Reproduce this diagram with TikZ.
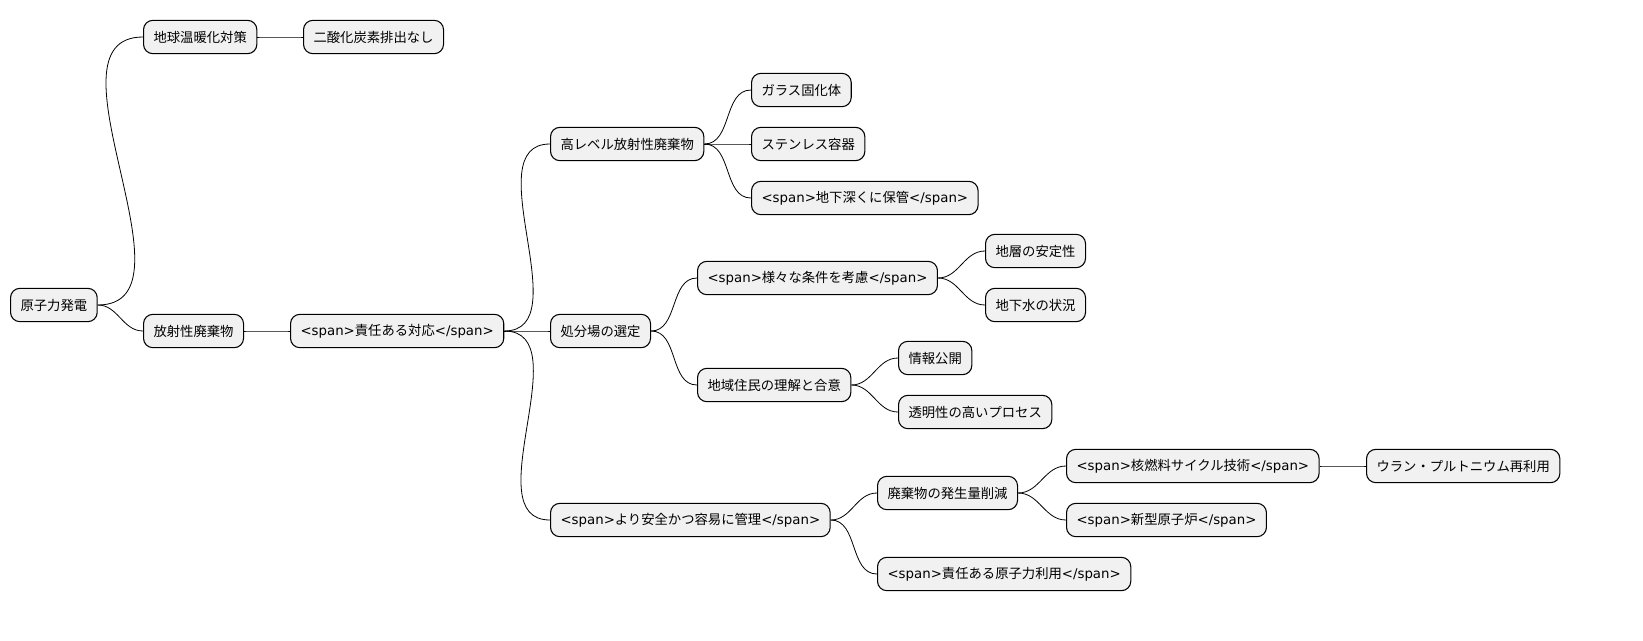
\documentclass[tikz,border=0pt]{standalone}
\usepackage{fontspec}
\setmainfont{Noto Sans CJK JP}
\newfontfamily\latfont{DejaVu Sans}
\newcommand{\spo}{{\latfont <span>}}
\newcommand{\spc}{{\latfont </span>}}
\definecolor{boxfill}{HTML}{F1F1F1}
\begin{document}
\begin{tikzpicture}[x=0.75pt,y=-0.75pt,
  topic/.style={draw=black,fill=boxfill,rounded corners=7pt,line width=0.8pt,
    minimum height=25pt,inner xsep=7.5pt,anchor=west,font=\fontsize{10}{12}\selectfont},
  link/.style={line width=0.6pt}]
 \useasboundingbox (0,0) rectangle (1643,640);

% root and first level
 \node[topic] (genshi) at (10,305) {原子力発電};
 \node[topic] (ondan) at (143,37) {地球温暖化対策};
 \node[topic] (co2) at (303,37) {二酸化炭素排出なし};
 \node[topic] (haiki) at (143,331) {放射性廃棄物};
 \node[topic] (sekinin) at (290,331) {\spo 責任ある対応\spc};

% high level waste
 \node[topic] (koreberu) at (550,144) {高レベル放射性廃棄物};
 \node[topic] (garasu) at (751,90) {ガラス固化体};
 \node[topic] (sutenresu) at (751,144) {ステンレス容器};
 \node[topic] (chika) at (751,198) {\spo 地下深くに保管\spc};

% site selection
 \node[topic] (shobun) at (550,331) {処分場の選定};
 \node[topic] (jouken) at (697,278) {\spo 様々な条件を考慮\spc};
 \node[topic] (chisou) at (985,251) {地層の安定性};
 \node[topic] (chikasui) at (985,305) {地下水の状況};
 \node[topic] (jumin) at (697,385) {地域住民の理解と合意};
 \node[topic] (jouhou) at (898,358) {情報公開};
 \node[topic] (toumei) at (898,412) {透明性の高いプロセス};

% safer management
 \node[topic] (kanri) at (550,520) {\spo より安全かつ容易に管理\spc};
 \node[topic] (sakugen) at (877,493) {廃棄物の発生量削減};
 \node[topic] (cycle) at (1066,466) {\spo 核燃料サイクル技術\spc};
 \node[topic] (uran) at (1366,466) {ウラン・プルトニウム再利用};
 \node[topic] (shingata) at (1066,520) {\spo 新型原子炉\spc};
 \node[topic] (riyou) at (877,574) {\spo 責任ある原子力利用\spc};

% connectors
 \foreach \a/\b in {genshi/ondan,ondan/co2,genshi/haiki,haiki/sekinin,
   sekinin/koreberu,koreberu/garasu,koreberu/sutenresu,koreberu/chika,
   sekinin/shobun,shobun/jouken,jouken/chisou,jouken/chikasui,
   shobun/jumin,jumin/jouhou,jumin/toumei,
   sekinin/kanri,kanri/sakugen,sakugen/cycle,cycle/uran,sakugen/shingata,kanri/riyou}
  \draw[link] (\a.east) to[out=0,in=180] (\b.west);

\end{tikzpicture}
\end{document}
